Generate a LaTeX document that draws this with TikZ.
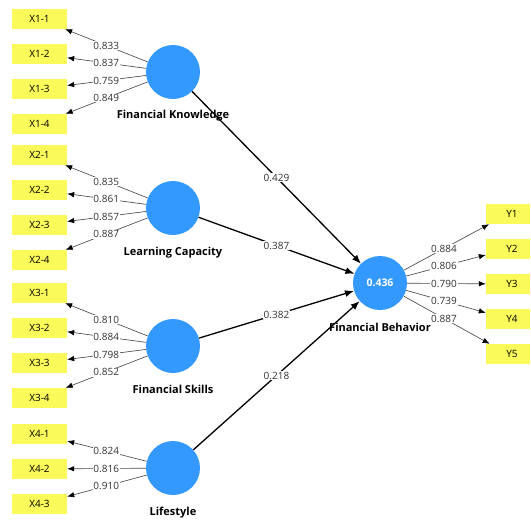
\documentclass[tikz,border=0pt]{standalone}
\usepackage{fontspec}
\setmainfont{Open Sans}
\usetikzlibrary{arrows.meta,calc}
\definecolor{lvblue}{RGB}{51,153,255}
\definecolor{mvyellow}{RGB}{250,250,90}
\definecolor{linegray}{RGB}{75,75,75}
\definecolor{txtgray}{RGB}{50,50,50}
\begin{document}
\begin{tikzpicture}[x=1pt,y=-1pt,
 lv/.style={circle,fill=lvblue,minimum size=54pt,inner sep=0pt},
 mv/.style={fill=mvyellow,minimum width=55pt,minimum height=20pt,inner sep=0pt,font=\fontsize{10}{12}\selectfont},
 mvy/.style={fill=mvyellow,minimum width=44pt,minimum height=20pt,inner sep=0pt,font=\fontsize{10}{12}\selectfont},
 lvname/.style={font=\bfseries\fontsize{11}{13}\selectfont},
 ld/.style={draw=linegray,line width=0.65pt,-{Latex[black,length=7pt,width=5.5pt]}},
 pc/.style={draw=black,line width=1.3pt,-{Latex[length=9pt,width=7pt]}},
 lbl/.style={fill=white,inner sep=0.8pt,text=txtgray,font=\fontsize{10}{12}\selectfont}]
\useasboundingbox[fill=white] (0,0) rectangle (531,520);
% latent variables
\node[lv] (FK) at (173,72) {};
\node[lv] (LC) at (173,208) {};
\node[lv] (FS) at (173,346) {};
\node[lv] (LS) at (173,468) {};
\node[lv,text=white,font=\bfseries\fontsize{10.5}{12}\selectfont] (FB) at (380,283) {0.436};
% structural paths
\draw[pc] (FK) -- (FB);
\draw[pc] (LC) -- (FB);
\draw[pc] (FS) -- (FB);
\draw[pc] (LS) -- (FB);
\node[lbl] (p1) at ($(FK)!0.5!(FB)$) {0.429};
\node[lbl] (p2) at ($(LC)!0.5!(FB)$) {0.387};
\node[lbl] (p3) at ($(FS)!0.5!(FB)$) {0.382};
\node[lbl] (p4) at ($(LS)!0.5!(FB)$) {0.218};
% indicators
\foreach \i/\y/\v in {1/19/0.833,2/54/0.837,3/89/0.759,4/124/0.849}{
  \node[mv] (Xa\i) at (39.5,\y) {X1-\i};
  \draw[ld] (FK) -- (Xa\i);
  \node[lbl] (La\i) at ($(FK)!0.5!(Xa\i)$) {\v};
}
\foreach \i/\y/\v in {1/155/0.835,2/190/0.861,3/225/0.857,4/260/0.887}{
  \node[mv] (Xb\i) at (39.5,\y) {X2-\i};
  \draw[ld] (LC) -- (Xb\i);
  \node[lbl] (Lb\i) at ($(LC)!0.5!(Xb\i)$) {\v};
}
\foreach \i/\y/\v in {1/293/0.810,2/328/0.884,3/363/0.798,4/398/0.852}{
  \node[mv] (Xc\i) at (39.5,\y) {X3-\i};
  \draw[ld] (FS) -- (Xc\i);
  \node[lbl] (Lc\i) at ($(FS)!0.5!(Xc\i)$) {\v};
}
\foreach \i/\y/\v in {1/434/0.824,2/469/0.816,3/504/0.910}{
  \node[mv] (Xd\i) at (39.5,\y) {X4-\i};
  \draw[ld] (LS) -- (Xd\i);
  \node[lbl] (Ld\i) at ($(LS)!0.5!(Xd\i)$) {\v};
}
\foreach \i/\y/\v in {1/214/0.884,2/249/0.806,3/284/0.790,4/319/0.739,5/354/0.887}{
  \node[mvy] (Y\i) at (508,\y) {\hspace*{8pt}Y\i};
  \draw[ld] (FB) -- (Y\i);
  \node[lbl] (LY\i) at ($(FB)!0.5!(Y\i)$) {\v};
}
% names
\node[lvname] (FKn) at (173,116) {Financial Knowledge};
\node[lvname] (LCn) at (173,253) {Learning Capacity};
\node[lvname] (FSn) at (173,389) {Financial Skills};
\node[lvname] (LSn) at (173,513) {Lifestyle};
\node[lvname] (FBn) at (380,327) {Financial Behavior};
\end{tikzpicture}
\end{document}
